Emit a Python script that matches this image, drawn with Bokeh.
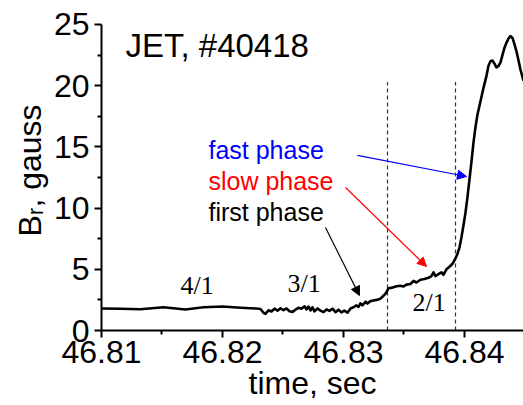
from bokeh.plotting import figure
from bokeh.models import (Range1d, FixedTicker, NumeralTickFormatter, Label, Arrow,
                          NormalHead)
from bokeh.embed import file_html
from bokeh.resources import INLINE

# ---------------- data ----------------
time_s = [
    46.81000, 46.81157, 46.81322, 46.81512, 46.81694, 46.81843, 46.82000, 46.82149,
    46.82281, 46.82314, 46.82339, 46.82355, 46.82380, 46.82405, 46.82430, 46.82455,
    46.82479, 46.82504, 46.82529, 46.82554, 46.82579, 46.82603, 46.82628, 46.82653,
    46.82678, 46.82694, 46.82711, 46.82727, 46.82744, 46.82760, 46.82785, 46.82810,
    46.82835, 46.82860, 46.82884, 46.82909, 46.82934, 46.82959, 46.82983, 46.83008,
    46.83033, 46.83058, 46.83083, 46.83107, 46.83124, 46.83140, 46.83157, 46.83182,
    46.83198, 46.83223, 46.83248, 46.83273, 46.83306, 46.83347, 46.83372, 46.83405,
    46.83438, 46.83471, 46.83496, 46.83521, 46.83554, 46.83579, 46.83603, 46.83636,
    46.83669, 46.83702, 46.83727, 46.83744, 46.83760, 46.83785, 46.83810, 46.83826,
    46.83851, 46.83876, 46.83901, 46.83926, 46.83942, 46.83959, 46.83975, 46.83992,
    46.84008, 46.84025, 46.84041, 46.84058, 46.84074, 46.84091, 46.84107, 46.84132,
    46.84157, 46.84182, 46.84198, 46.84215, 46.84231, 46.84248, 46.84264, 46.84281,
    46.84298, 46.84314, 46.84331, 46.84347, 46.84364, 46.84380, 46.84397, 46.84413,
    46.84430, 46.84446, 46.84463, 46.84488,
]
br_gauss = [
    1.80, 1.78, 1.74, 1.90, 1.72, 1.90, 1.96, 1.86,
    1.80, 1.76, 1.45, 1.36, 1.65, 1.55, 1.78, 1.62,
    1.82, 1.66, 1.80, 1.58, 1.52, 1.70, 1.85, 1.78,
    1.98, 1.72, 1.96, 1.64, 1.90, 1.56, 1.80, 1.62,
    1.50, 1.72, 1.60, 1.78, 1.50, 1.70, 1.48, 1.62,
    1.45, 1.80, 1.90, 2.05, 1.92, 2.22, 2.05, 2.35,
    2.20, 2.40, 2.45, 2.50, 2.60, 3.00, 3.45, 3.50,
    3.62, 3.66, 3.60, 3.75, 3.80, 4.05, 3.92, 4.15,
    4.20, 4.30, 4.45, 4.75, 4.45, 4.60, 4.75, 4.55,
    5.00, 5.20, 5.45, 5.90, 6.25, 6.80, 7.60, 8.60,
    9.60, 10.9, 12.3, 13.8, 15.3, 16.6, 17.6, 18.7,
    19.8, 20.8, 21.6, 22.0, 22.05, 21.8, 21.5, 21.6,
    21.9, 22.5, 23.1, 23.5, 23.85, 24.05, 23.9, 23.4,
    22.8, 22.1, 21.3, 20.4,
]

x_ticks = [46.81, 46.82, 46.83, 46.84]
x_minor = [46.815, 46.825, 46.835, 46.845]
y_ticks = [0, 5, 10, 15, 20, 25]
y_minor = [2.5, 7.5, 12.5, 17.5, 22.5]

x_title = "time, sec"
y_title = "B\u1d63, gauss"

phase_bounds = [46.83364, 46.83926]   # dashed vertical lines
phase_top = 20.3

title_text = "JET, #40418"
title_pos = (46.81198, 23.28)
phase_names = ["fast phase", "slow phase", "first phase"]
phase_colors = ["#0000ff", "#ff0000", "#000000"]
phase_text_x = [46.81884, 46.81884, 46.81884]
phase_text_y = [14.72, 12.20, 9.70]
# arrows: (x_start, y_start, x_end, y_end)
arrow_x0 = [46.83116, 46.83017, 46.82851]
arrow_y0 = [14.30, 11.68, 8.42]
arrow_x1 = [46.84017, 46.83686, 46.83132]
arrow_y1 = [12.58, 5.23, 2.86]

mode_names = ["4/1", "3/1", "2/1"]
mode_x = [46.81653, 46.82537, 46.83570]
mode_y = [3.65, 3.80, 2.30]

# ---------------- figure ----------------
p = figure(width=523, height=405, output_backend="svg", toolbar_location=None,
           x_range=Range1d(46.81, 46.84488), y_range=Range1d(0, 26.14),
           min_border_left=101, min_border_right=0, min_border_top=10,
           min_border_bottom=75, background_fill_color="white",
           border_fill_color="white")
p.outline_line_color = None
p.xgrid.visible = False
p.ygrid.visible = False

FONT = "Liberation Sans"

for ax, ticks, minor, fmt, title in ((p.xaxis[0], x_ticks, x_minor, "0.00", x_title),
                                     (p.yaxis[0], y_ticks, y_minor, "0", y_title)):
    ax.ticker = FixedTicker(ticks=ticks, minor_ticks=minor)
    ax.formatter = NumeralTickFormatter(format=fmt)
    ax.axis_line_width = 2
    ax.axis_line_color = "black"
    ax.major_tick_line_width = 2
    ax.major_tick_line_color = "black"
    ax.minor_tick_line_width = 2
    ax.minor_tick_line_color = "black"
    ax.major_tick_out = 7
    ax.major_tick_in = 0
    ax.minor_tick_out = 4
    ax.minor_tick_in = 0
    ax.major_label_text_font = FONT
    ax.major_label_text_font_size = "32px"
    ax.major_label_text_color = "black"
    ax.axis_label = title
    ax.axis_label_text_font = FONT
    ax.axis_label_text_font_size = "32px"
    ax.axis_label_text_font_style = "normal"
    ax.axis_label_text_color = "black"

p.yaxis.bounds = (0, 25)
p.xaxis.major_label_standoff = 3
p.xaxis.axis_label_standoff = -1
p.yaxis.major_label_standoff = 5
p.yaxis.axis_label_standoff = 3

# dashed phase boundaries
for xb in phase_bounds:
    p.segment(x0=[xb], y0=[0], x1=[xb], y1=[phase_top], line_color="#333333",
              line_width=1.2, line_dash="4 3")

# signal
p.line(time_s, br_gauss, line_color="black", line_width=2.6, line_join="round")

# title
p.add_layout(Label(x=title_pos[0], y=title_pos[1], text=title_text, text_font=FONT,
                   text_font_size="33px", text_color="black",
                   text_baseline="alphabetic", text_align="left"))

# phases
for name, col, tx, ty in zip(phase_names, phase_colors, phase_text_x, phase_text_y):
    p.add_layout(Label(x=tx, y=ty, text=name, text_font=FONT, text_font_size="25px",
                       text_color=col, text_baseline="alphabetic", text_align="left"))
for col, xs, ys, xe, ye in zip(phase_colors, arrow_x0, arrow_y0, arrow_x1, arrow_y1):
    p.add_layout(Arrow(x_start=xs, y_start=ys, x_end=xe, y_end=ye,
                       line_color=col, line_width=1.2,
                       end=NormalHead(size=9, fill_color=col, line_color=col,
                                      line_width=1)))

# mode numbers
for name, mx, my in zip(mode_names, mode_x, mode_y):
    p.add_layout(Label(x=mx, y=my, text=name, text_font="Liberation Serif",
                       text_font_size="26px", text_color="black",
                       text_baseline="alphabetic", text_align="left"))

open("out.html", "w").write(file_html(p, INLINE))
